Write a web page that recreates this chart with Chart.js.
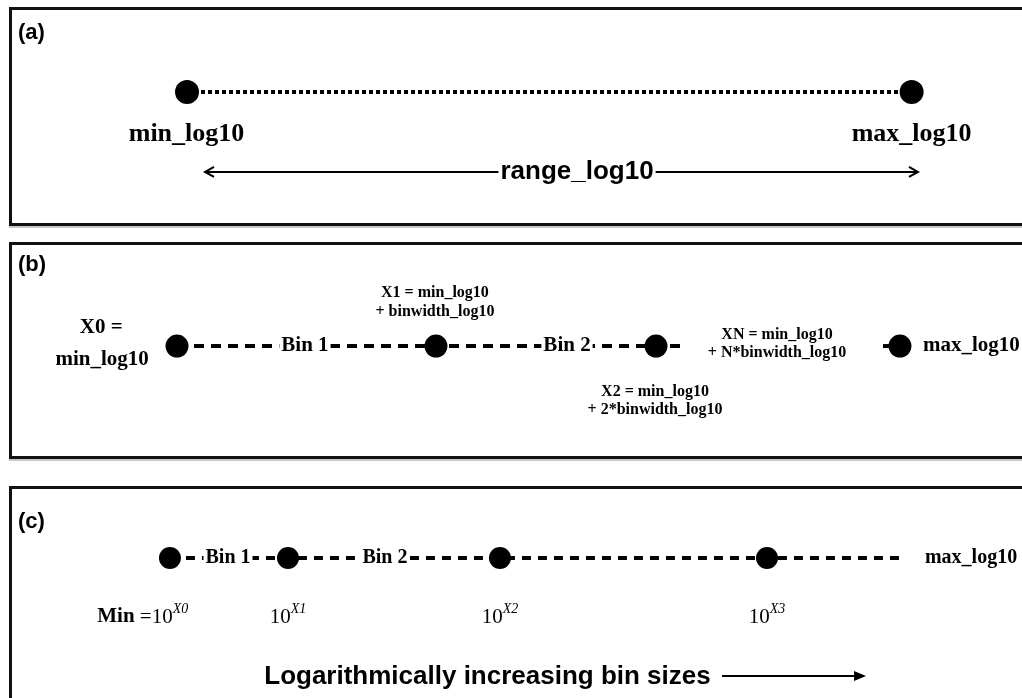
<!DOCTYPE html>
<html>
<head>
<meta charset="utf-8">
<script src="https://cdn.jsdelivr.net/npm/chart.js@4.4.0/dist/chart.umd.min.js"></script>
<style>
  html, body { margin: 0; padding: 0; background: #fff; overflow: hidden; width: 1022px; height: 698px; }
  .panel { position: absolute; left: 9px; width: 1100px; border: 3px solid #111; box-sizing: border-box; }
  #boxA { top: 7px; height: 219px; box-shadow: 0 2px 0 #c8c8c8; }
  #boxB { top: 242px; height: 217px; box-shadow: 0 2px 0 #c8c8c8; }
  #boxC { top: 486px; height: 300px; }
  canvas { position: absolute; left: 0; }
</style>
</head>
<body>
<div class="panel" id="boxA"></div>
<div class="panel" id="boxB"></div>
<div class="panel" id="boxC"></div>
<canvas id="chartA" width="1022" height="233" style="top:0px"></canvas>
<canvas id="chartB" width="1022" height="237" style="top:233px"></canvas>
<canvas id="chartC" width="1022" height="228" style="top:470px"></canvas>
<script>
// x = percent of the figure width, y = percent of the panel height (from the top)

// (a) the whole log10 range
const aPointX = [18.3, 89.2];
const aPointY = [39.5, 39.5];
const aLineX = [[18.3, 89.2]];
const aLabels = [
  { text: '(a)', x: 1.76, y: 14.2, kind: 'tag' },
  { text: 'min_log10', x: 18.25, y: 57.5, kind: 'big' },
  { text: 'max_log10', x: 89.2, y: 57.5, kind: 'big' },
  { text: 'range_log10', x: 56.46, y: 73.8, kind: 'bigSans' }
];
const aArrows = [{ x0: 20.06, x1: 89.82, y: 73.8, heads: 'both' }];

// (b) equal bins in log10 space
const bPointX = [17.32, 42.66, 64.19, 88.06];
const bPointY = [47.7, 47.7, 47.7, 47.7];
const bLineX = [[17.32, 66.83], [86.4, 88.06]];
const bLabels = [
  { text: '(b)', x: 1.76, y: 13.5, kind: 'tag' },
  { text: 'X0 =', x: 9.9, y: 40.1, kind: 'mid' },
  { text: 'min_log10', x: 10.0, y: 53.6, kind: 'mid' },
  { text: 'Bin 1', x: 29.84, y: 47.7, kind: 'bin' },
  { text: 'Bin 2', x: 55.48, y: 47.7, kind: 'bin' },
  { text: 'X1 = min_log10', x: 42.56, y: 25.3, kind: 'note' },
  { text: '+ binwidth_log10', x: 42.56, y: 33.3, kind: 'note' },
  { text: 'X2 = min_log10', x: 64.09, y: 67.1, kind: 'note' },
  { text: '+ 2*binwidth_log10', x: 64.09, y: 74.7, kind: 'note' },
  { text: 'XN = min_log10', x: 76.03, y: 43.0, kind: 'note' },
  { text: '+ N*binwidth_log10', x: 76.03, y: 50.6, kind: 'note' },
  { text: 'max_log10', x: 90.31, y: 47.3, kind: 'maxB' }
];

// (c) back-transformed edges 10^Xk
const cPointX = [16.63, 28.18, 48.92, 75.05];
const cPointY = [38.6, 38.6, 38.6, 38.6];
const cLineX = [[16.63, 88.55]];
const cExponents = ['X0', 'X1', 'X2', 'X3'];
const cPowerY = 64.5;
const cLabels = [
  { text: '(c)', x: 1.76, y: 22.8, kind: 'tag' },
  { text: 'Bin 1', x: 22.31, y: 38.6, kind: 'binC' },
  { text: 'Bin 2', x: 37.67, y: 38.6, kind: 'binC' },
  { text: 'max_log10', x: 90.5, y: 38.6, kind: 'maxC' },
  { text: 'Logarithmically increasing bin sizes', x: 47.7, y: 90.8, kind: 'caption' }
];
const cArrows = [{ x0: 70.65, x1: 84.74, y: 90.4, heads: 'end' }];

const SERIF = '"Liberation Serif", "Times New Roman", serif';
const SANS = '"Liberation Sans", Arial, Helvetica, sans-serif';
const kindStyles = {
  tag:     { font: 'bold 22px ' + SANS, align: 'left' },
  big:     { font: 'bold 26px ' + SERIF, align: 'center' },
  bigSans: { font: 'bold 26px ' + SANS, align: 'center', bg: true },
  mid:     { font: 'bold 21px ' + SERIF, align: 'center' },
  bin:     { font: 'bold 21px ' + SERIF, align: 'center', bg: true },
  binC:    { font: 'bold 20px ' + SERIF, align: 'center', bg: true },
  note:    { font: 'bold 16px ' + SERIF, align: 'center' },
  maxB:    { font: 'bold 21px ' + SERIF, align: 'left' },
  maxC:    { font: 'bold 20px ' + SERIF, align: 'left' },
  caption: { font: 'bold 26px ' + SANS, align: 'center' }
};

const diagramPlugin = {
  id: 'diagram',
  afterDatasetsDraw(chart, args, opts) {
    const ctx = chart.ctx;
    const xs = chart.scales.x, ys = chart.scales.y;
    ctx.save();
    ctx.fillStyle = '#000';
    ctx.strokeStyle = '#000';

    (opts.arrows || []).forEach(a => {
      const x0 = xs.getPixelForValue(a.x0);
      const x1 = xs.getPixelForValue(a.x1);
      const y = ys.getPixelForValue(a.y);
      ctx.setLineDash([]);
      ctx.lineWidth = 2;
      ctx.beginPath();
      ctx.moveTo(x0, y);
      ctx.lineTo(a.heads === 'end' ? x1 - 6 : x1, y);
      ctx.stroke();
      if (a.heads === 'both') {
        ctx.beginPath();
        ctx.moveTo(x0 + 9, y - 5); ctx.lineTo(x0, y); ctx.lineTo(x0 + 9, y + 5);
        ctx.moveTo(x1 - 9, y - 5); ctx.lineTo(x1, y); ctx.lineTo(x1 - 9, y + 5);
        ctx.stroke();
      } else {
        ctx.beginPath();
        ctx.moveTo(x1, y); ctx.lineTo(x1 - 12, y - 5); ctx.lineTo(x1 - 12, y + 5);
        ctx.closePath();
        ctx.fill();
      }
    });

    ctx.textBaseline = 'middle';
    (opts.labels || []).forEach(l => {
      const st = kindStyles[l.kind];
      const x = xs.getPixelForValue(l.x);
      const y = ys.getPixelForValue(l.y);
      ctx.font = st.font;
      ctx.textAlign = st.align;
      if (st.bg) {
        const w = ctx.measureText(l.text).width;
        const left = st.align === 'center' ? x - w / 2 : x;
        ctx.fillStyle = '#fff';
        ctx.fillRect(left - 2, y - 14, w + 4, 28);
        ctx.fillStyle = '#000';
      }
      ctx.fillText(l.text, x, y);
    });

    const pw = opts.powers;
    if (pw) {
      const y = ys.getPixelForValue(pw.y);
      pw.x.forEach((v, i) => {
        const cx = xs.getPixelForValue(v);
        ctx.font = '21px ' + SERIF;
        const wb = ctx.measureText('10').width;
        ctx.font = 'italic 14px ' + SERIF;
        const we = ctx.measureText(pw.exps[i]).width;
        const start = cx - (wb + we) / 2;
        ctx.textAlign = 'left';
        ctx.font = '21px ' + SERIF;
        ctx.fillText('10', start, y);
        ctx.font = 'italic 14px ' + SERIF;
        ctx.fillText(pw.exps[i], start + wb, y - 8);
        if (i === 0) {
          ctx.textAlign = 'right';
          ctx.font = '21px ' + SERIF;
          ctx.fillText(' =', start, y);
          const weq = ctx.measureText(' =').width;
          ctx.font = 'bold 21px ' + SERIF;
          ctx.fillText('Min', start - weq, y);
        }
      });
    }
    ctx.restore();
  }
};

function segmentSets(lines, y, dash, width) {
  return lines.map(seg => ({
    type: 'line',
    data: seg.map(x => ({ x: x, y: y })),
    borderColor: '#000',
    borderWidth: width,
    borderDash: dash,
    borderCapStyle: 'butt',
    pointRadius: 0,
    fill: false,
    order: 2
  }));
}

function dotSet(xsArr, ysArr, radius) {
  return {
    type: 'scatter',
    data: xsArr.map((x, i) => ({ x: x, y: ysArr[i] })),
    backgroundColor: '#000',
    borderWidth: 0,
    pointRadius: radius,
    pointHoverRadius: radius,
    order: 1
  };
}

function makePanel(id, datasets, pluginOpts) {
  return new Chart(document.getElementById(id), {
    type: 'scatter',
    data: { datasets: datasets },
    options: {
      responsive: false,
      maintainAspectRatio: false,
      animation: false,
      events: [],
      layout: { padding: 0, autoPadding: false },
      plugins: {
        legend: { display: false },
        tooltip: { enabled: false },
        diagram: pluginOpts
      },
      scales: {
        x: { type: 'linear', min: 0, max: 100, display: false },
        y: { type: 'linear', min: 0, max: 100, reverse: true, display: false }
      }
    },
    plugins: [diagramPlugin]
  });
}

makePanel('chartA',
  [dotSet(aPointX, aPointY, 12)].concat(segmentSets(aLineX, aPointY[0], [4, 3], 4)),
  { labels: aLabels, arrows: aArrows });

makePanel('chartB',
  [dotSet(bPointX, bPointY, 11.5)].concat(segmentSets(bLineX, bPointY[0], [10, 7], 4)),
  { labels: bLabels, arrows: [] });

makePanel('chartC',
  [dotSet(cPointX, cPointY, 11)].concat(segmentSets(cLineX, cPointY[0], [9, 7], 4)),
  { labels: cLabels, arrows: cArrows, powers: { x: cPointX, y: cPowerY, exps: cExponents } });
</script>
</body>
</html>
